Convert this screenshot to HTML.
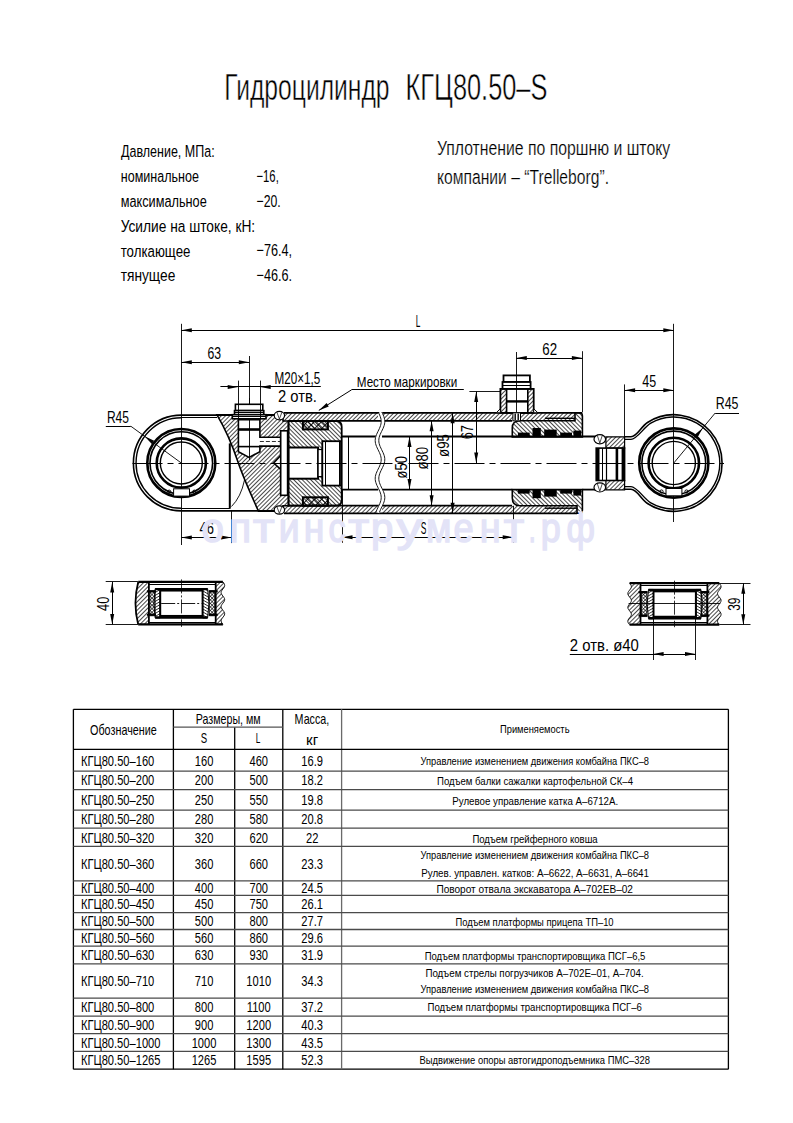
<!DOCTYPE html>
<html><head><meta charset="utf-8"><title>КГЦ80.50-S</title>
<style>html,body{margin:0;padding:0;background:#fff;}svg{display:block;}
text{font-family:"Liberation Sans", sans-serif;}</style></head>
<body><svg width="793" height="1123" viewBox="0 0 793 1123">
<defs>
<pattern id="hA" patternUnits="userSpaceOnUse" width="3" height="3" patternTransform="rotate(45)">
<rect x="0" y="0" width="0.72" height="3" fill="#000"/></pattern>
<pattern id="hA2" patternUnits="userSpaceOnUse" width="2.6" height="2.6" patternTransform="rotate(60)">
<rect x="0" y="0" width="0.7" height="2.6" fill="#000"/></pattern>
<pattern id="hB2" patternUnits="userSpaceOnUse" width="2.6" height="2.6" patternTransform="rotate(-60)">
<rect x="0" y="0" width="0.7" height="2.6" fill="#000"/></pattern>
<pattern id="hX2" patternUnits="userSpaceOnUse" width="2.5" height="2.5" patternTransform="rotate(45)">
<rect x="0" y="0" width="0.6" height="2.5" fill="#000"/><rect x="0" y="0" width="2.5" height="0.6" fill="#000"/></pattern>
<pattern id="hB" patternUnits="userSpaceOnUse" width="3" height="3" patternTransform="rotate(-45)">
<rect x="0" y="0" width="0.72" height="3" fill="#000"/></pattern>
<pattern id="hX" patternUnits="userSpaceOnUse" width="5" height="5" patternTransform="rotate(45)">
<rect x="0" y="0" width="0.9" height="5" fill="#000"/><rect x="0" y="0" width="5" height="0.9" fill="#000"/></pattern>
</defs>
<rect x="0" y="0" width="793" height="1123" fill="#fff"/>
<text x="224.20" y="100.40" font-size="36.5" stroke="#fff" stroke-width="0.5" fill="#000" font-weight="normal" textLength="165.40" lengthAdjust="spacingAndGlyphs" >Гидроцилиндр</text>
<text x="405.60" y="100.40" font-size="36.5" stroke="#fff" stroke-width="0.5" fill="#000" font-weight="normal" textLength="141.81" lengthAdjust="spacingAndGlyphs" >КГЦ80.50–S</text>
<text x="121.00" y="157.00" font-size="16.8" stroke="none" stroke-width="0" fill="#000" font-weight="normal" textLength="93.60" lengthAdjust="spacingAndGlyphs" >Давление, МПа:</text>
<text x="120.80" y="182.00" font-size="16.8" stroke="none" stroke-width="0" fill="#000" font-weight="normal" textLength="78.10" lengthAdjust="spacingAndGlyphs" >номинальное</text>
<text x="120.70" y="207.00" font-size="16.8" stroke="none" stroke-width="0" fill="#000" font-weight="normal" textLength="86.10" lengthAdjust="spacingAndGlyphs" >максимальное</text>
<text x="120.70" y="231.80" font-size="16.8" stroke="none" stroke-width="0" fill="#000" font-weight="normal" textLength="134.49" lengthAdjust="spacingAndGlyphs" >Усилие на штоке, кН:</text>
<text x="120.70" y="256.60" font-size="16.8" stroke="none" stroke-width="0" fill="#000" font-weight="normal" textLength="69.70" lengthAdjust="spacingAndGlyphs" >толкающее</text>
<text x="120.70" y="281.40" font-size="16.8" stroke="none" stroke-width="0" fill="#000" font-weight="normal" textLength="54.59" lengthAdjust="spacingAndGlyphs" >тянущее</text>
<text x="256.50" y="181.60" font-size="16.8" stroke="none" stroke-width="0" fill="#000" font-weight="normal" textLength="22.30" lengthAdjust="spacingAndGlyphs" >−16,</text>
<text x="256.50" y="206.90" font-size="16.8" stroke="none" stroke-width="0" fill="#000" font-weight="normal" textLength="24.20" lengthAdjust="spacingAndGlyphs" >−20.</text>
<text x="256.50" y="256.40" font-size="16.8" stroke="none" stroke-width="0" fill="#000" font-weight="normal" textLength="35.60" lengthAdjust="spacingAndGlyphs" >−76.4,</text>
<text x="256.50" y="281.00" font-size="16.8" stroke="none" stroke-width="0" fill="#000" font-weight="normal" textLength="35.60" lengthAdjust="spacingAndGlyphs" >−46.6.</text>
<text x="436.90" y="155.20" font-size="19.4" stroke="#fff" stroke-width="0.2" fill="#000" font-weight="normal" textLength="233.30" lengthAdjust="spacingAndGlyphs" >Уплотнение по поршню и штоку</text>
<text x="437.00" y="183.50" font-size="19.4" stroke="#fff" stroke-width="0.2" fill="#000" font-weight="normal" textLength="172.00" lengthAdjust="spacingAndGlyphs" >компании – “Trelleborg”.</text>
<g stroke="#000" fill="none" stroke-linecap="butt">
<line x1="181.50" y1="323.80" x2="181.50" y2="545.00" stroke-width="0.9" />
<line x1="673.50" y1="323.80" x2="673.50" y2="522.00" stroke-width="0.9" />
<line x1="181.30" y1="330.50" x2="673.80" y2="330.50" stroke-width="1.0" />
<path d="M181.30,330.30 L191.80,328.30 L191.80,332.30 Z" fill="#000" stroke="none"/>
<path d="M673.80,330.30 L663.30,332.30 L663.30,328.30 Z" fill="#000" stroke="none"/>
<line x1="249.50" y1="356.00" x2="249.50" y2="460.00" stroke-width="0.9" />
<line x1="181.30" y1="362.50" x2="249.30" y2="362.50" stroke-width="1.0" />
<path d="M181.30,362.20 L191.80,360.20 L191.80,364.20 Z" fill="#000" stroke="none"/>
<path d="M249.30,362.20 L238.80,364.20 L238.80,360.20 Z" fill="#000" stroke="none"/>
<line x1="220.40" y1="386.50" x2="320.80" y2="386.50" stroke-width="1.0" />
<path d="M238.20,386.90 L227.70,388.90 L227.70,384.90 Z" fill="#000" stroke="none"/>
<path d="M260.20,386.90 L270.70,384.90 L270.70,388.90 Z" fill="#000" stroke="none"/>
<line x1="238.50" y1="380.60" x2="238.50" y2="405.00" stroke-width="0.9" />
<line x1="260.50" y1="380.60" x2="260.50" y2="405.00" stroke-width="0.9" />
<line x1="351.60" y1="389.50" x2="463.80" y2="389.50" stroke-width="1.0" />
<line x1="351.60" y1="389.80" x2="318.80" y2="410.40" stroke-width="1.0" />
<path d="M318.80,410.40 L326.63,403.12 L328.76,406.51 Z" fill="#000" stroke="none"/>
<line x1="582.50" y1="351.20" x2="582.50" y2="412.00" stroke-width="0.9" />
<line x1="516.30" y1="358.50" x2="582.40" y2="358.50" stroke-width="1.0" />
<path d="M516.30,358.00 L526.80,356.00 L526.80,360.00 Z" fill="#000" stroke="none"/>
<path d="M582.40,358.00 L571.90,360.00 L571.90,356.00 Z" fill="#000" stroke="none"/>
<line x1="624.50" y1="384.40" x2="624.50" y2="437.00" stroke-width="0.9" />
<line x1="624.60" y1="390.50" x2="673.80" y2="390.50" stroke-width="1.0" />
<path d="M624.60,390.30 L635.10,388.30 L635.10,392.30 Z" fill="#000" stroke="none"/>
<path d="M673.80,390.30 L663.30,392.30 L663.30,388.30 Z" fill="#000" stroke="none"/>
<line x1="469.40" y1="391.50" x2="500.50" y2="391.50" stroke-width="0.9" />
<line x1="476.50" y1="391.50" x2="476.50" y2="463.00" stroke-width="1.0" />
<path d="M476.20,391.50 L478.20,402.00 L474.20,402.00 Z" fill="#000" stroke="none"/>
<path d="M476.20,463.00 L474.20,452.50 L478.20,452.50 Z" fill="#000" stroke="none"/>
<line x1="409.50" y1="436.60" x2="409.50" y2="489.60" stroke-width="1.0" />
<path d="M409.50,436.60 L411.50,447.10 L407.50,447.10 Z" fill="#000" stroke="none"/>
<path d="M409.50,489.60 L407.50,479.10 L411.50,479.10 Z" fill="#000" stroke="none"/>
<line x1="431.50" y1="420.80" x2="431.50" y2="505.70" stroke-width="1.0" />
<path d="M431.60,420.80 L433.60,431.30 L429.60,431.30 Z" fill="#000" stroke="none"/>
<path d="M431.60,505.70 L429.60,495.20 L433.60,495.20 Z" fill="#000" stroke="none"/>
<line x1="452.50" y1="412.80" x2="452.50" y2="513.30" stroke-width="1.0" />
<path d="M452.60,412.80 L454.60,423.30 L450.60,423.30 Z" fill="#000" stroke="none"/>
<path d="M452.60,513.30 L450.60,502.80 L454.60,502.80 Z" fill="#000" stroke="none"/>
<line x1="231.50" y1="511.00" x2="231.50" y2="543.10" stroke-width="0.9" />
<line x1="181.30" y1="537.50" x2="231.50" y2="537.50" stroke-width="1.0" />
<path d="M181.30,537.50 L191.80,535.50 L191.80,539.50 Z" fill="#000" stroke="none"/>
<path d="M231.50,537.50 L221.00,539.50 L221.00,535.50 Z" fill="#000" stroke="none"/>
<line x1="342.50" y1="490.00" x2="342.50" y2="542.80" stroke-width="0.9" />
<line x1="513.50" y1="506.00" x2="513.50" y2="543.00" stroke-width="0.9" />
<line x1="342.00" y1="537.50" x2="513.20" y2="537.50" stroke-width="1.0" />
<path d="M342.00,537.20 L352.50,535.20 L352.50,539.20 Z" fill="#000" stroke="none"/>
<path d="M513.20,537.20 L502.70,539.20 L502.70,535.20 Z" fill="#000" stroke="none"/>
<path d="M181.3,415.1 A47.9,47.9 0 0 0 181.3,510.9" stroke-width="1.6" fill="none" />
<path d="M181.3,417.7 A45.3,45.3 0 0 0 181.3,508.3" stroke-width="1.4" fill="none" />
<line x1="181.30" y1="415.10" x2="283.00" y2="415.10" stroke-width="1.6" />
<line x1="181.30" y1="417.50" x2="217.00" y2="417.50" stroke-width="1.0" />
<line x1="181.30" y1="510.90" x2="283.00" y2="510.90" stroke-width="1.6" />
<line x1="181.30" y1="508.50" x2="229.80" y2="508.50" stroke-width="1.0" />
<circle cx="181.30" cy="463.00" r="34.00" stroke-width="2.6" fill="none"/>
<circle cx="181.30" cy="463.00" r="31.30" stroke-width="1.6" fill="none"/>
<circle cx="181.30" cy="463.00" r="24.60" stroke-width="2.6" fill="none"/>
<circle cx="181.30" cy="463.00" r="21.00" stroke-width="1.4" fill="none"/>
<rect x="173.60" y="488.80" width="15.90" height="7.30" stroke-width="1.0" fill="#fff"/>
<circle cx="169.20" cy="491.70" r="1.60" stroke-width="1.0" fill="none"/>
<circle cx="194.30" cy="491.70" r="1.60" stroke-width="1.0" fill="none"/>
<line x1="229.80" y1="443.40" x2="229.80" y2="508.70" stroke-width="2.0" />
<path d="M231.5,506.5 Q241,497 244.5,480" stroke-width="0.9" fill="none" />
<text x="106.90" y="422.60" font-size="16.5" stroke="none" stroke-width="0" fill="#000" font-weight="normal" textLength="22.11" lengthAdjust="spacingAndGlyphs" >R45</text>
<line x1="105.80" y1="426.50" x2="130.80" y2="426.50" stroke-width="1.0" />
<line x1="130.80" y1="426.20" x2="181.30" y2="463.00" stroke-width="0.9" />
<path d="M144.53,436.20 L154.19,440.77 L151.84,444.00 Z" fill="#000" stroke="none"/>
<path d="M217,414.8 L283,414.8 L283,421 L288.4,421 L288.4,430.8 L280.7,430.8 L280.7,455.5 L273.7,463 L280.7,469.4 L280.7,495.3 L288.4,495.3 L288.4,505.7 L283,505.7 L283,511.2 L258.5,511.2 C248,488 242,474 238,462 C232,444 226,430 217,414.8 Z" fill="url(#hA)" stroke="none"/>
<path d="M217,414.8 L283,414.8 L283,421 L288.4,421 L288.4,430.8 L280.7,430.8 L280.7,455.5 L273.7,463 L280.7,469.4 L280.7,495.3 L288.4,495.3 L288.4,505.7 L283,505.7 L283,511.2 L258.5,511.2 C248,488 242,474 238,462 C232,444 226,430 217,414.8 Z" stroke-width="1.6" fill="none" />
<path d="M238.4,419.6 L259.9,419.6 L259.9,437.2 L280.7,437.2 L280.7,446.1 L259.9,446.1 L259.9,451.7 L249.1,457.4 L238.4,451.7 Z" stroke-width="1.6" fill="#fff" />
<line x1="259.90" y1="441.50" x2="280.70" y2="441.50" stroke-width="0.8" stroke-dasharray="4,2"/>
<line x1="238.40" y1="429.50" x2="259.90" y2="429.50" stroke-width="2.6" />
<line x1="238.40" y1="446.60" x2="259.90" y2="446.60" stroke-width="1.6" />
<line x1="249.50" y1="398.00" x2="249.50" y2="457.00" stroke-width="0.9" />
<rect x="235.40" y="404.30" width="27.40" height="6.30" stroke-width="1.6" fill="#fff"/>
<rect x="234.50" y="410.60" width="29.30" height="4.10" stroke-width="1.6" fill="#fff"/>
<line x1="234.50" y1="412.50" x2="263.80" y2="412.50" stroke-width="1.0" />
<rect x="232.30" y="414.70" width="33.70" height="4.10" stroke-width="1.6" fill="#fff"/>
<line x1="232.30" y1="416.50" x2="266.00" y2="416.50" stroke-width="1.0" />
<line x1="238.50" y1="404.30" x2="238.50" y2="418.80" stroke-width="0.9" />
<line x1="260.50" y1="404.30" x2="260.50" y2="418.80" stroke-width="0.9" />
<rect x="280.70" y="430.80" width="6.90" height="64.50" stroke-width="1.6" fill="#fff"/>
<ellipse cx="279.4" cy="415.6" rx="5.2" ry="4.2" fill="#fff" stroke-width="1.2"/>
<line x1="276.90" y1="412.20" x2="279.40" y2="419.00" stroke-width="0.7" />
<line x1="281.90" y1="412.20" x2="279.40" y2="419.00" stroke-width="0.7" />
<ellipse cx="279.4" cy="510.0" rx="5.2" ry="4.2" fill="#fff" stroke-width="1.2"/>
<line x1="276.90" y1="506.60" x2="279.40" y2="513.40" stroke-width="0.7" />
<line x1="281.90" y1="506.60" x2="279.40" y2="513.40" stroke-width="0.7" />
<path d="M284,412.8 L378,412.8 L378,420.8 L284,420.8 Z M382,412.8 L575,412.8 L575,420.8 L382,420.8 Z" fill="url(#hA)" stroke="none"/>
<path d="M284,505.7 L378,505.7 L378,513.3 L284,513.3 Z M382,505.7 L577,505.7 L577,513.3 L382,513.3 Z" fill="url(#hA)" stroke="none"/>
<line x1="284.00" y1="412.80" x2="582.40" y2="412.80" stroke-width="1.8" />
<line x1="288.00" y1="420.80" x2="512.00" y2="420.80" stroke-width="1.8" />
<line x1="284.00" y1="513.30" x2="577.00" y2="513.30" stroke-width="1.8" />
<line x1="288.00" y1="505.70" x2="512.00" y2="505.70" stroke-width="1.8" />
<path d="M288.6,421 L336,421 Q341.7,421 341.7,427 L341.7,499.7 Q341.7,505.7 336,505.7 L288.6,505.7 Z" fill="url(#hB)" stroke="none"/>
<path d="M288.6,421 L336,421 Q341.7,421 341.7,427 L341.7,499.7 Q341.7,505.7 336,505.7 L288.6,505.7 Z" stroke-width="1.8" fill="none" />
<rect x="302.90" y="421.00" width="25.00" height="8.40" stroke-width="2.0" fill="url(#hX)"/>
<rect x="302.90" y="497.30" width="25.00" height="8.40" stroke-width="2.0" fill="url(#hX)"/>
<rect x="288.60" y="447.50" width="29.50" height="31.20" stroke-width="2.0" fill="#fff"/>
<rect x="318.10" y="449.50" width="4.20" height="27.10" stroke-width="1.2" fill="#fff"/>
<rect x="322.30" y="441.20" width="18.70" height="44.40" stroke-width="1.8" fill="#fff"/>
<line x1="325.50" y1="441.20" x2="325.50" y2="485.60" stroke-width="1.0" />
<line x1="339.50" y1="441.20" x2="339.50" y2="485.60" stroke-width="1.0" />
<line x1="341.70" y1="436.50" x2="378.00" y2="436.50" stroke-width="1.8" />
<line x1="382.00" y1="436.50" x2="596.00" y2="436.50" stroke-width="1.8" />
<line x1="341.70" y1="489.60" x2="378.00" y2="489.60" stroke-width="1.8" />
<line x1="382.00" y1="489.60" x2="512.30" y2="489.60" stroke-width="1.8" />
<line x1="582.40" y1="489.60" x2="596.00" y2="489.60" stroke-width="1.8" />
<line x1="348.50" y1="436.50" x2="348.50" y2="489.60" stroke-width="1.0" />
<path d="M380.00,412.00 L380.74,413.50 L381.43,415.00 L382.03,416.50 L382.51,418.00 L382.84,419.50 L382.99,421.00 L382.96,422.50 L382.75,424.00 L382.37,425.50 L381.84,427.00 L381.21,428.50 L380.49,430.00 L379.75,431.50 L379.03,433.00 L378.36,434.50 L377.79,436.00 L377.36,437.50 L377.09,439.00 L377.00,440.50 L377.09,442.00 L377.36,443.50 L377.79,445.00 L378.36,446.50 L379.03,448.00 L379.75,449.50 L380.49,451.00 L381.21,452.50 L381.84,454.00 L382.37,455.50 L382.75,457.00 L382.96,458.50 L382.99,460.00 L382.84,461.50 L382.51,463.00 L382.03,464.50 L381.43,466.00 L380.74,467.50 L380.00,469.00 L379.26,470.50 L378.57,472.00 L377.97,473.50 L377.49,475.00 L377.16,476.50 L377.01,478.00 L377.04,479.50 L377.25,481.00 L377.63,482.50 L378.16,484.00 L378.79,485.50 L379.51,487.00 L380.25,488.50 L380.97,490.00 L381.64,491.50 L382.21,493.00 L382.64,494.50 L382.91,496.00 L383.00,497.50 L382.91,499.00 L382.64,500.50 L382.21,502.00 L381.64,503.50 L380.97,505.00 L380.25,506.50 L379.51,508.00 L378.79,509.50 L378.16,511.00 L377.63,512.50" stroke="#fff" stroke-width="4" fill="none"/>
<path d="M378.20,412.00 L378.94,413.50 L379.63,415.00 L380.23,416.50 L380.71,418.00 L381.04,419.50 L381.19,421.00 L381.16,422.50 L380.95,424.00 L380.57,425.50 L380.04,427.00 L379.41,428.50 L378.69,430.00 L377.95,431.50 L377.23,433.00 L376.56,434.50 L375.99,436.00 L375.56,437.50 L375.29,439.00 L375.20,440.50 L375.29,442.00 L375.56,443.50 L375.99,445.00 L376.56,446.50 L377.23,448.00 L377.95,449.50 L378.69,451.00 L379.41,452.50 L380.04,454.00 L380.57,455.50 L380.95,457.00 L381.16,458.50 L381.19,460.00 L381.04,461.50 L380.71,463.00 L380.23,464.50 L379.63,466.00 L378.94,467.50 L378.20,469.00 L377.46,470.50 L376.77,472.00 L376.17,473.50 L375.69,475.00 L375.36,476.50 L375.21,478.00 L375.24,479.50 L375.45,481.00 L375.83,482.50 L376.36,484.00 L376.99,485.50 L377.71,487.00 L378.45,488.50 L379.17,490.00 L379.84,491.50 L380.41,493.00 L380.84,494.50 L381.11,496.00 L381.20,497.50 L381.11,499.00 L380.84,500.50 L380.41,502.00 L379.84,503.50 L379.17,505.00 L378.45,506.50 L377.71,508.00 L376.99,509.50 L376.36,511.00 L375.83,512.50" stroke-width="0.9" fill="none" />
<path d="M381.80,412.00 L382.54,413.50 L383.23,415.00 L383.83,416.50 L384.31,418.00 L384.64,419.50 L384.79,421.00 L384.76,422.50 L384.55,424.00 L384.17,425.50 L383.64,427.00 L383.01,428.50 L382.29,430.00 L381.55,431.50 L380.83,433.00 L380.16,434.50 L379.59,436.00 L379.16,437.50 L378.89,439.00 L378.80,440.50 L378.89,442.00 L379.16,443.50 L379.59,445.00 L380.16,446.50 L380.83,448.00 L381.55,449.50 L382.29,451.00 L383.01,452.50 L383.64,454.00 L384.17,455.50 L384.55,457.00 L384.76,458.50 L384.79,460.00 L384.64,461.50 L384.31,463.00 L383.83,464.50 L383.23,466.00 L382.54,467.50 L381.80,469.00 L381.06,470.50 L380.37,472.00 L379.77,473.50 L379.29,475.00 L378.96,476.50 L378.81,478.00 L378.84,479.50 L379.05,481.00 L379.43,482.50 L379.96,484.00 L380.59,485.50 L381.31,487.00 L382.05,488.50 L382.77,490.00 L383.44,491.50 L384.01,493.00 L384.44,494.50 L384.71,496.00 L384.80,497.50 L384.71,499.00 L384.44,500.50 L384.01,502.00 L383.44,503.50 L382.77,505.00 L382.05,506.50 L381.31,508.00 L380.59,509.50 L379.96,511.00 L379.43,512.50" stroke-width="0.9" fill="none" />
<path d="M512.3,437 L512.3,428 Q512.3,420.8 520,420.8 L575,420.8 L575,412.8 L579,412.8 Q582.4,412.8 582.4,416 L582.4,437 Z" fill="url(#hB)" stroke="none"/>
<path d="M512.3,489.6 L512.3,498 Q512.3,505.7 520,505.7 L577,505.7 L577,513.3 L579,513.3 Q582.4,513.3 582.4,510 L582.4,489.6 Z" fill="url(#hB)" stroke="none"/>
<path d="M512.3,437 L512.3,428 Q512.3,420.8 520,420.8 L575,420.8 L575,412.8 L579,412.8 Q582.4,412.8 582.4,416 L582.4,437 Z" stroke-width="1.6" fill="none" />
<path d="M512.3,489.6 L512.3,498 Q512.3,505.7 520,505.7 L577,505.7 L577,513.3 L579,513.3 Q582.4,513.3 582.4,510 L582.4,489.6 Z" stroke-width="1.6" fill="none" />
<line x1="545.00" y1="418.30" x2="575.00" y2="418.30" stroke-width="1.4" />
<line x1="545.00" y1="508.20" x2="577.00" y2="508.20" stroke-width="1.4" />
<rect x="517.90" y="432.60" width="11.80" height="4.00" stroke-width="0" fill="#000"/>
<rect x="517.90" y="489.60" width="11.80" height="4.00" stroke-width="0" fill="#000"/>
<rect x="532.50" y="428.00" width="8.30" height="8.60" stroke-width="0" fill="#000"/>
<rect x="532.50" y="489.60" width="8.30" height="8.60" stroke-width="0" fill="#000"/>
<rect x="544.20" y="429.60" width="12.50" height="7.00" stroke-width="0" fill="#000"/>
<rect x="544.20" y="489.60" width="12.50" height="7.00" stroke-width="0" fill="#000"/>
<rect x="560.20" y="432.60" width="11.80" height="4.00" stroke-width="0" fill="#000"/>
<rect x="560.20" y="489.60" width="11.80" height="4.00" stroke-width="0" fill="#000"/>
<rect x="573.40" y="430.60" width="7.60" height="6.00" stroke-width="0" fill="#000"/>
<rect x="573.40" y="489.60" width="7.60" height="6.00" stroke-width="0" fill="#000"/>
<path d="M500.4,388.9 L533.7,388.9 L533.7,412.8 L500.4,412.8 Z" fill="url(#hA)" stroke="none"/>
<path d="M500.4,388.9 L533.7,388.9 L533.7,412.8 L500.4,412.8 Z" stroke-width="1.8" fill="none" />
<rect x="506.60" y="388.90" width="21.20" height="23.90" stroke-width="1.6" fill="#fff"/>
<line x1="506.60" y1="401.40" x2="527.80" y2="401.40" stroke-width="2.4" />
<rect x="503.50" y="375.40" width="26.40" height="6.60" stroke-width="1.8" fill="#fff"/>
<rect x="502.50" y="382.00" width="28.10" height="6.90" stroke-width="1.8" fill="#fff"/>
<line x1="502.50" y1="385.50" x2="530.60" y2="385.50" stroke-width="1.0" />
<line x1="516.50" y1="352.00" x2="516.50" y2="412.80" stroke-width="0.9" />
<path d="M500.4,408.7 L496.2,412.8 L500.4,412.8 Z" stroke-width="1.0" fill="#fff" />
<path d="M533.7,408.7 L537.9,412.8 L533.7,412.8 Z" stroke-width="1.0" fill="#fff" />
<rect x="512.90" y="412.80" width="7.60" height="8.00" stroke-width="1.0" fill="#fff"/>
<line x1="515.20" y1="413.50" x2="515.20" y2="420.00" stroke-width="1.4" />
<line x1="518.20" y1="413.50" x2="518.20" y2="420.00" stroke-width="1.4" />
<path d="M605.9,436.8 L624.6,436.8 L624.6,448.1 L605.9,448.1 Z" fill="url(#hA)" stroke="none"/>
<path d="M605.9,480.5 L624.6,480.5 L624.6,489.8 L605.9,489.8 Z" fill="url(#hA)" stroke="none"/>
<path d="M605.9,436.8 L624.6,436.8 L624.6,448.1 L605.9,448.1 Z" stroke-width="1.2" fill="none" />
<path d="M605.9,480.5 L624.6,480.5 L624.6,489.8 L605.9,489.8 Z" stroke-width="1.2" fill="none" />
<rect x="596.20" y="448.10" width="28.40" height="32.40" stroke-width="1.6" fill="#fff"/>
<line x1="598.20" y1="448.10" x2="598.20" y2="480.50" stroke-width="2.6" />
<line x1="602.50" y1="448.10" x2="602.50" y2="480.50" stroke-width="1.0" />
<line x1="606.50" y1="448.10" x2="606.50" y2="480.50" stroke-width="1.2" />
<line x1="616.90" y1="448.10" x2="616.90" y2="480.50" stroke-width="2.6" />
<line x1="622.80" y1="448.10" x2="622.80" y2="480.50" stroke-width="2.4" />
<ellipse cx="599.8" cy="439.2" rx="5.8" ry="4.6" fill="#fff" stroke-width="1.2"/>
<line x1="597.30" y1="435.40" x2="599.80" y2="443.00" stroke-width="0.7" />
<line x1="602.30" y1="435.40" x2="599.80" y2="443.00" stroke-width="0.7" />
<ellipse cx="599.8" cy="487.4" rx="5.8" ry="4.6" fill="#fff" stroke-width="1.2"/>
<line x1="597.30" y1="483.60" x2="599.80" y2="491.20" stroke-width="0.7" />
<line x1="602.30" y1="483.60" x2="599.80" y2="491.20" stroke-width="0.7" />
<path d="M624.6,436.80 L631,436.80 C637,436.80 640.78,426.85 647.49,422.49 A48.3,48.3 0 1 1 647.49,503.51 C640.78,499.15 637,489.20 631,489.20 L624.6,489.20" stroke-width="1.6" fill="none" />
<path d="M624.6,439.40 L631,439.40 C637,439.40 643.87,427.16 650.80,423.16 A46.0,46.0 0 1 1 650.80,502.84 C643.87,498.84 637,486.60 631,486.60 L624.6,486.60" stroke-width="1.4" fill="none" />
<circle cx="673.80" cy="463.00" r="34.60" stroke-width="2.6" fill="none"/>
<circle cx="673.80" cy="463.00" r="31.90" stroke-width="1.6" fill="none"/>
<circle cx="673.80" cy="463.00" r="25.20" stroke-width="2.6" fill="none"/>
<circle cx="673.80" cy="463.00" r="21.60" stroke-width="1.4" fill="none"/>
<rect x="666.00" y="488.50" width="15.90" height="7.30" stroke-width="1.0" fill="#fff"/>
<circle cx="661.50" cy="491.50" r="1.60" stroke-width="1.0" fill="none"/>
<circle cx="686.50" cy="491.50" r="1.60" stroke-width="1.0" fill="none"/>
<text x="715.70" y="409.20" font-size="16.5" stroke="none" stroke-width="0" fill="#000" font-weight="normal" textLength="22.71" lengthAdjust="spacingAndGlyphs" >R45</text>
<line x1="715.20" y1="413.50" x2="739.00" y2="413.50" stroke-width="1.0" />
<line x1="715.20" y1="413.00" x2="673.80" y2="463.00" stroke-width="0.9" />
<path d="M702.82,427.95 L697.66,437.32 L694.58,434.77 Z" fill="#000" stroke="none"/>
<line x1="132.50" y1="463.50" x2="724.00" y2="463.50" stroke-width="1.0" stroke-dasharray="30,5,6,5"/>
<line x1="105.70" y1="581.50" x2="137.90" y2="581.50" stroke-width="0.9" />
<line x1="105.70" y1="624.50" x2="137.90" y2="624.50" stroke-width="0.9" />
<line x1="112.50" y1="581.90" x2="112.50" y2="624.40" stroke-width="1.0" />
<path d="M112.20,581.90 L114.20,592.40 L110.20,592.40 Z" fill="#000" stroke="none"/>
<path d="M112.20,624.40 L110.20,613.90 L114.20,613.90 Z" fill="#000" stroke="none"/>
<text x="108.90" y="610.90" font-size="17" stroke="none" stroke-width="0" fill="#000" font-weight="normal" textLength="14.20" lengthAdjust="spacingAndGlyphs" transform="rotate(-90 108.90 610.90)" >40</text>
<path d="M138.2,581.9 Q132.7,603.15 138.2,624.4 L148.9,624.4 L148.9,581.9 Z" fill="url(#hA)" stroke="none"/>
<path d="M215.7,581.9 L222.9,581.9 L222.90,581.90 L223.80,583.08 L224.46,584.26 L224.70,585.44 L224.46,586.62 L223.80,587.80 L222.90,588.98 L222.00,590.16 L221.34,591.34 L221.10,592.52 L221.34,593.71 L222.00,594.89 L222.90,596.07 L223.80,597.25 L224.46,598.43 L224.70,599.61 L224.46,600.79 L223.80,601.97 L222.90,603.15 L222.00,604.33 L221.34,605.51 L221.10,606.69 L221.34,607.87 L222.00,609.05 L222.90,610.23 L223.80,611.41 L224.46,612.59 L224.70,613.77 L224.46,614.96 L223.80,616.14 L222.90,617.32 L222.00,618.50 L221.34,619.68 L221.10,620.86 L221.34,622.04 L222.00,623.22 L222.90,624.40 L215.7,624.4 Z" fill="url(#hA)" stroke="none"/>
<path d="M138.2,581.9 Q132.7,603.15 138.2,624.4" stroke-width="1.8" fill="none" />
<path d="M222.90,581.90 L223.80,583.08 L224.46,584.26 L224.70,585.44 L224.46,586.62 L223.80,587.80 L222.90,588.98 L222.00,590.16 L221.34,591.34 L221.10,592.52 L221.34,593.71 L222.00,594.89 L222.90,596.07 L223.80,597.25 L224.46,598.43 L224.70,599.61 L224.46,600.79 L223.80,601.97 L222.90,603.15 L222.00,604.33 L221.34,605.51 L221.10,606.69 L221.34,607.87 L222.00,609.05 L222.90,610.23 L223.80,611.41 L224.46,612.59 L224.70,613.77 L224.46,614.96 L223.80,616.14 L222.90,617.32 L222.00,618.50 L221.34,619.68 L221.10,620.86 L221.34,622.04 L222.00,623.22 L222.90,624.40" stroke-width="0.9" fill="none" />
<line x1="148.90" y1="581.90" x2="148.90" y2="624.40" stroke-width="1.8" />
<line x1="215.70" y1="581.90" x2="215.70" y2="624.40" stroke-width="1.8" />
<line x1="138.20" y1="581.90" x2="222.90" y2="581.90" stroke-width="2.2" />
<line x1="138.20" y1="624.40" x2="222.90" y2="624.40" stroke-width="2.2" />
<line x1="148.90" y1="584.50" x2="215.70" y2="584.50" stroke-width="1.0" />
<line x1="148.90" y1="622.50" x2="215.70" y2="622.50" stroke-width="1.0" />
<path d="M149.9,590.75 L155.20000000000002,590.75 L155.20000000000002,615.75 L149.9,615.75 Z" fill="url(#hX2)" stroke="none"/>
<path d="M149.9,590.75 L155.20000000000002,590.75 L155.20000000000002,615.75 L149.9,615.75 Z" stroke-width="0.8" fill="none" />
<path d="M209.39999999999998,590.75 L214.7,590.75 L214.7,615.75 L209.39999999999998,615.75 Z" fill="url(#hX2)" stroke="none"/>
<path d="M209.39999999999998,590.75 L214.7,590.75 L214.7,615.75 L209.39999999999998,615.75 Z" stroke-width="0.8" fill="none" />
<line x1="146.90" y1="591.35" x2="155.90" y2="591.35" stroke-width="2.2" />
<line x1="146.90" y1="614.75" x2="155.90" y2="614.75" stroke-width="2.2" />
<line x1="208.70" y1="591.35" x2="217.70" y2="591.35" stroke-width="2.2" />
<line x1="208.70" y1="614.75" x2="217.70" y2="614.75" stroke-width="2.2" />
<path d="M160.20000000000002,588.65 L155.20000000000002,588.65 Q152.4,603.15 155.20000000000002,617.9499999999999 L160.20000000000002,617.9499999999999 Z" fill="url(#hA2)" stroke="none"/>
<path d="M160.20000000000002,588.65 L155.20000000000002,588.65 Q152.4,603.15 155.20000000000002,617.9499999999999 L160.20000000000002,617.9499999999999 Z" stroke-width="1.0" fill="none" />
<path d="M202.6,588.65 L207.6,588.65 Q210.4,603.15 207.6,617.9499999999999 L202.6,617.9499999999999 Z" fill="url(#hB2)" stroke="none"/>
<path d="M202.6,588.65 L207.6,588.65 Q210.4,603.15 207.6,617.9499999999999 L202.6,617.9499999999999 Z" stroke-width="1.0" fill="none" />
<line x1="155.20" y1="589.15" x2="207.60" y2="589.15" stroke-width="2.4" />
<line x1="155.20" y1="617.45" x2="207.60" y2="617.45" stroke-width="2.4" />
<rect x="160.20" y="590.55" width="42.40" height="25.40" stroke-width="2.0" fill="#fff"/>
<line x1="181.50" y1="579.40" x2="181.50" y2="626.90" stroke-width="0.8" stroke-dasharray="14,2,2,2"/>
<line x1="161.20" y1="603.50" x2="201.60" y2="603.50" stroke-width="0.9" stroke-dasharray="14,2,2,2"/>
<line x1="719.40" y1="583.50" x2="750.50" y2="583.50" stroke-width="0.9" />
<line x1="719.40" y1="624.50" x2="750.50" y2="624.50" stroke-width="0.9" />
<line x1="743.50" y1="583.20" x2="743.50" y2="624.70" stroke-width="1.0" />
<path d="M743.30,583.20 L745.30,593.70 L741.30,593.70 Z" fill="#000" stroke="none"/>
<path d="M743.30,624.70 L741.30,614.20 L745.30,614.20 Z" fill="#000" stroke="none"/>
<text x="740.50" y="610.80" font-size="17" stroke="none" stroke-width="0" fill="#000" font-weight="normal" textLength="13.30" lengthAdjust="spacingAndGlyphs" transform="rotate(-90 740.50 610.80)" >39</text>
<path d="M640.5,583.2 L629.6,583.2 L629.60,583.20 L630.50,584.35 L631.16,585.51 L631.40,586.66 L631.16,587.81 L630.50,588.96 L629.60,590.12 L628.70,591.27 L628.04,592.42 L627.80,593.58 L628.04,594.73 L628.70,595.88 L629.60,597.03 L630.50,598.19 L631.16,599.34 L631.40,600.49 L631.16,601.64 L630.50,602.80 L629.60,603.95 L628.70,605.10 L628.04,606.26 L627.80,607.41 L628.04,608.56 L628.70,609.71 L629.60,610.87 L630.50,612.02 L631.16,613.17 L631.40,614.33 L631.16,615.48 L630.50,616.63 L629.60,617.78 L628.70,618.94 L628.04,620.09 L627.80,621.24 L628.04,622.39 L628.70,623.55 L629.60,624.70 L640.5,624.7 Z" fill="url(#hA)" stroke="none"/>
<path d="M707.4,583.2 L719.3,583.2 L719.30,583.20 L720.20,584.35 L720.86,585.51 L721.10,586.66 L720.86,587.81 L720.20,588.96 L719.30,590.12 L718.40,591.27 L717.74,592.42 L717.50,593.58 L717.74,594.73 L718.40,595.88 L719.30,597.03 L720.20,598.19 L720.86,599.34 L721.10,600.49 L720.86,601.64 L720.20,602.80 L719.30,603.95 L718.40,605.10 L717.74,606.26 L717.50,607.41 L717.74,608.56 L718.40,609.71 L719.30,610.87 L720.20,612.02 L720.86,613.17 L721.10,614.33 L720.86,615.48 L720.20,616.63 L719.30,617.78 L718.40,618.94 L717.74,620.09 L717.50,621.24 L717.74,622.39 L718.40,623.55 L719.30,624.70 L707.4,624.7 Z" fill="url(#hA)" stroke="none"/>
<path d="M629.60,583.20 L630.50,584.35 L631.16,585.51 L631.40,586.66 L631.16,587.81 L630.50,588.96 L629.60,590.12 L628.70,591.27 L628.04,592.42 L627.80,593.58 L628.04,594.73 L628.70,595.88 L629.60,597.03 L630.50,598.19 L631.16,599.34 L631.40,600.49 L631.16,601.64 L630.50,602.80 L629.60,603.95 L628.70,605.10 L628.04,606.26 L627.80,607.41 L628.04,608.56 L628.70,609.71 L629.60,610.87 L630.50,612.02 L631.16,613.17 L631.40,614.33 L631.16,615.48 L630.50,616.63 L629.60,617.78 L628.70,618.94 L628.04,620.09 L627.80,621.24 L628.04,622.39 L628.70,623.55 L629.60,624.70" stroke-width="0.9" fill="none" />
<path d="M719.30,583.20 L720.20,584.35 L720.86,585.51 L721.10,586.66 L720.86,587.81 L720.20,588.96 L719.30,590.12 L718.40,591.27 L717.74,592.42 L717.50,593.58 L717.74,594.73 L718.40,595.88 L719.30,597.03 L720.20,598.19 L720.86,599.34 L721.10,600.49 L720.86,601.64 L720.20,602.80 L719.30,603.95 L718.40,605.10 L717.74,606.26 L717.50,607.41 L717.74,608.56 L718.40,609.71 L719.30,610.87 L720.20,612.02 L720.86,613.17 L721.10,614.33 L720.86,615.48 L720.20,616.63 L719.30,617.78 L718.40,618.94 L717.74,620.09 L717.50,621.24 L717.74,622.39 L718.40,623.55 L719.30,624.70" stroke-width="0.9" fill="none" />
<line x1="640.50" y1="583.20" x2="640.50" y2="624.70" stroke-width="1.8" />
<line x1="707.40" y1="583.20" x2="707.40" y2="624.70" stroke-width="1.8" />
<line x1="629.60" y1="583.20" x2="719.30" y2="583.20" stroke-width="2.2" />
<line x1="629.60" y1="624.70" x2="719.30" y2="624.70" stroke-width="2.2" />
<line x1="640.50" y1="585.50" x2="707.40" y2="585.50" stroke-width="1.0" />
<line x1="640.50" y1="622.50" x2="707.40" y2="622.50" stroke-width="1.0" />
<path d="M641.5,591.5500000000001 L646.8,591.5500000000001 L646.8,616.5500000000001 L641.5,616.5500000000001 Z" fill="url(#hX2)" stroke="none"/>
<path d="M641.5,591.5500000000001 L646.8,591.5500000000001 L646.8,616.5500000000001 L641.5,616.5500000000001 Z" stroke-width="0.8" fill="none" />
<path d="M701.1,591.5500000000001 L706.4,591.5500000000001 L706.4,616.5500000000001 L701.1,616.5500000000001 Z" fill="url(#hX2)" stroke="none"/>
<path d="M701.1,591.5500000000001 L706.4,591.5500000000001 L706.4,616.5500000000001 L701.1,616.5500000000001 Z" stroke-width="0.8" fill="none" />
<line x1="638.50" y1="592.15" x2="647.50" y2="592.15" stroke-width="2.2" />
<line x1="638.50" y1="615.55" x2="647.50" y2="615.55" stroke-width="2.2" />
<line x1="700.40" y1="592.15" x2="709.40" y2="592.15" stroke-width="2.2" />
<line x1="700.40" y1="615.55" x2="709.40" y2="615.55" stroke-width="2.2" />
<path d="M653.5,589.45 L648.5,589.45 Q645.7,603.95 648.5,618.75 L653.5,618.75 Z" fill="url(#hA2)" stroke="none"/>
<path d="M653.5,589.45 L648.5,589.45 Q645.7,603.95 648.5,618.75 L653.5,618.75 Z" stroke-width="1.0" fill="none" />
<path d="M695.9000000000001,589.45 L700.9000000000001,589.45 Q703.7,603.95 700.9000000000001,618.75 L695.9000000000001,618.75 Z" fill="url(#hB2)" stroke="none"/>
<path d="M695.9000000000001,589.45 L700.9000000000001,589.45 Q703.7,603.95 700.9000000000001,618.75 L695.9000000000001,618.75 Z" stroke-width="1.0" fill="none" />
<line x1="648.50" y1="589.95" x2="700.90" y2="589.95" stroke-width="2.4" />
<line x1="648.50" y1="618.25" x2="700.90" y2="618.25" stroke-width="2.4" />
<rect x="653.50" y="591.35" width="42.40" height="25.40" stroke-width="2.0" fill="#fff"/>
<line x1="674.50" y1="580.70" x2="674.50" y2="627.20" stroke-width="0.8" stroke-dasharray="14,2,2,2"/>
<line x1="628.60" y1="603.50" x2="720.30" y2="603.50" stroke-width="0.9" />
<line x1="653.50" y1="618.00" x2="653.50" y2="660.00" stroke-width="0.9" />
<line x1="695.50" y1="618.00" x2="695.50" y2="660.00" stroke-width="0.9" />
<line x1="569.80" y1="654.50" x2="695.50" y2="654.50" stroke-width="1.0" />
<path d="M653.10,654.10 L663.60,652.10 L663.60,656.10 Z" fill="#000" stroke="none"/>
<path d="M695.50,654.10 L685.00,656.10 L685.00,652.10 Z" fill="#000" stroke="none"/>
<text x="569.80" y="650.90" font-size="16.4" stroke="none" stroke-width="0" fill="#000" font-weight="normal" textLength="69.00" lengthAdjust="spacingAndGlyphs" >2 отв. ø40</text>
</g>
<text x="207.40" y="358.90" font-size="17" stroke="none" stroke-width="0" fill="#000" font-weight="normal" textLength="13.60" lengthAdjust="spacingAndGlyphs" >63</text>
<text x="274.50" y="383.50" font-size="16.4" stroke="none" stroke-width="0" fill="#000" font-weight="normal" textLength="45.81" lengthAdjust="spacingAndGlyphs" >M20×1,5</text>
<text x="277.90" y="402.40" font-size="16.4" stroke="none" stroke-width="0" fill="#000" font-weight="normal" textLength="39.00" lengthAdjust="spacingAndGlyphs" >2 отв.</text>
<text x="356.80" y="386.50" font-size="14.5" stroke="none" stroke-width="0" fill="#000" font-weight="normal" textLength="100.40" lengthAdjust="spacingAndGlyphs" >Место маркировки</text>
<text x="542.30" y="354.90" font-size="17" stroke="none" stroke-width="0" fill="#000" font-weight="normal" textLength="14.80" lengthAdjust="spacingAndGlyphs" >62</text>
<text x="642.30" y="386.80" font-size="17" stroke="none" stroke-width="0" fill="#000" font-weight="normal" textLength="13.90" lengthAdjust="spacingAndGlyphs" >45</text>
<text x="415.80" y="326.70" font-size="16.5" stroke="none" stroke-width="0" fill="#000" font-weight="normal" textLength="4.60" lengthAdjust="spacingAndGlyphs" >L</text>
<text x="472.70" y="439.30" font-size="17" stroke="none" stroke-width="0" fill="#000" font-weight="normal" textLength="14.20" lengthAdjust="spacingAndGlyphs" transform="rotate(-90 472.70 439.30)" >67</text>
<text x="449.20" y="456.90" font-size="17" stroke="none" stroke-width="0" fill="#000" font-weight="normal" textLength="22.70" lengthAdjust="spacingAndGlyphs" transform="rotate(-90 449.20 456.90)" >ø95</text>
<text x="427.80" y="469.60" font-size="17" stroke="none" stroke-width="0" fill="#000" font-weight="normal" textLength="22.70" lengthAdjust="spacingAndGlyphs" transform="rotate(-90 427.80 469.60)" >ø80</text>
<text x="406.70" y="478.50" font-size="17" stroke="none" stroke-width="0" fill="#000" font-weight="normal" textLength="22.40" lengthAdjust="spacingAndGlyphs" transform="rotate(-90 406.70 478.50)" >ø50</text>
<text x="199.50" y="534.10" font-size="17" stroke="none" stroke-width="0" fill="#000" font-weight="normal" textLength="14.40" lengthAdjust="spacingAndGlyphs" >46</text>
<text x="420.80" y="533.60" font-size="17" stroke="none" stroke-width="0" fill="#000" font-weight="normal" textLength="5.60" lengthAdjust="spacingAndGlyphs" >S</text>
<g stroke="#000" fill="none">
<line x1="73.40" y1="709.30" x2="728.40" y2="709.30" stroke-width="1.3" />
<line x1="73.40" y1="1069.20" x2="728.40" y2="1069.20" stroke-width="1.3" />
<line x1="73.40" y1="709.30" x2="73.40" y2="1069.20" stroke-width="1.3" />
<line x1="728.40" y1="709.30" x2="728.40" y2="1069.20" stroke-width="1.3" />
<line x1="173.40" y1="709.30" x2="173.40" y2="1069.20" stroke-width="1.3" />
<line x1="282.80" y1="709.30" x2="282.80" y2="1069.20" stroke-width="1.3" />
<line x1="341.60" y1="709.30" x2="341.60" y2="1069.20" stroke-width="1.3" stroke="#6a6a6a"/>
<line x1="234.70" y1="727.20" x2="234.70" y2="1069.20" stroke-width="1.3" />
<line x1="173.40" y1="727.20" x2="282.80" y2="727.20" stroke-width="1.3" stroke="#555"/>
<line x1="73.40" y1="749.30" x2="728.40" y2="749.30" stroke-width="1.3" />
<line x1="73.40" y1="771.20" x2="728.40" y2="771.20" stroke-width="1.3" stroke="#4a4a4a"/>
<line x1="73.40" y1="789.60" x2="728.40" y2="789.60" stroke-width="1.3" stroke="#4a4a4a"/>
<line x1="73.40" y1="810.20" x2="728.40" y2="810.20" stroke-width="1.3" stroke="#4a4a4a"/>
<line x1="73.40" y1="828.20" x2="728.40" y2="828.20" stroke-width="1.3" stroke="#4a4a4a"/>
<line x1="73.40" y1="846.40" x2="728.40" y2="846.40" stroke-width="1.3" stroke="#4a4a4a"/>
<line x1="73.40" y1="880.90" x2="728.40" y2="880.90" stroke-width="1.3" stroke="#4a4a4a"/>
<line x1="73.40" y1="895.30" x2="728.40" y2="895.30" stroke-width="1.3" stroke="#4a4a4a"/>
<line x1="73.40" y1="912.60" x2="728.40" y2="912.60" stroke-width="1.3" stroke="#4a4a4a"/>
<line x1="73.40" y1="929.50" x2="728.40" y2="929.50" stroke-width="1.3" stroke="#4a4a4a"/>
<line x1="73.40" y1="946.10" x2="728.40" y2="946.10" stroke-width="1.3" stroke="#4a4a4a"/>
<line x1="73.40" y1="963.90" x2="728.40" y2="963.90" stroke-width="1.3" stroke="#4a4a4a"/>
<line x1="73.40" y1="998.20" x2="728.40" y2="998.20" stroke-width="1.3" stroke="#4a4a4a"/>
<line x1="73.40" y1="1016.20" x2="728.40" y2="1016.20" stroke-width="1.3" stroke="#4a4a4a"/>
<line x1="73.40" y1="1033.60" x2="728.40" y2="1033.60" stroke-width="1.3" stroke="#4a4a4a"/>
<line x1="73.40" y1="1051.30" x2="728.40" y2="1051.30" stroke-width="1.3" stroke="#4a4a4a"/>
</g>
<text x="90.00" y="734.70" font-size="14.8" stroke="none" stroke-width="0" fill="#000" font-weight="normal" textLength="66.80" lengthAdjust="spacingAndGlyphs" >Обозначение</text>
<text x="195.70" y="724.20" font-size="14.8" stroke="none" stroke-width="0" fill="#000" font-weight="normal" textLength="65.00" lengthAdjust="spacingAndGlyphs" >Размеры, мм</text>
<text x="200.80" y="743.30" font-size="14.8" stroke="none" stroke-width="0" fill="#000" font-weight="normal" textLength="6.40" lengthAdjust="spacingAndGlyphs" >S</text>
<text x="255.70" y="743.30" font-size="14.8" stroke="none" stroke-width="0" fill="#000" font-weight="normal" textLength="4.60" lengthAdjust="spacingAndGlyphs" >L</text>
<text x="294.60" y="724.20" font-size="14.8" stroke="none" stroke-width="0" fill="#000" font-weight="normal" textLength="34.70" lengthAdjust="spacingAndGlyphs" >Масса,</text>
<text x="306.10" y="745.40" font-size="14.8" stroke="none" stroke-width="0" fill="#000" font-weight="normal" textLength="12.10" lengthAdjust="spacingAndGlyphs" >кг</text>
<text x="500.00" y="733.30" font-size="11" stroke="none" stroke-width="0" fill="#000" font-weight="normal" textLength="69.50" lengthAdjust="spacingAndGlyphs" >Применяемость</text>
<text x="80.90" y="765.60" font-size="14.8" stroke="none" stroke-width="0" fill="#000" font-weight="normal" textLength="73.40" lengthAdjust="spacingAndGlyphs" >КГЦ80.50–160</text>
<text x="194.76" y="765.60" font-size="14.8" stroke="none" stroke-width="0" fill="#000" font-weight="normal" textLength="18.58" lengthAdjust="spacingAndGlyphs" >160</text>
<text x="249.46" y="765.60" font-size="14.8" stroke="none" stroke-width="0" fill="#000" font-weight="normal" textLength="18.58" lengthAdjust="spacingAndGlyphs" >460</text>
<text x="301.36" y="765.60" font-size="14.8" stroke="none" stroke-width="0" fill="#000" font-weight="normal" textLength="21.67" lengthAdjust="spacingAndGlyphs" >16.9</text>
<text x="80.90" y="785.40" font-size="14.8" stroke="none" stroke-width="0" fill="#000" font-weight="normal" textLength="73.40" lengthAdjust="spacingAndGlyphs" >КГЦ80.50–200</text>
<text x="194.76" y="785.40" font-size="14.8" stroke="none" stroke-width="0" fill="#000" font-weight="normal" textLength="18.58" lengthAdjust="spacingAndGlyphs" >200</text>
<text x="249.46" y="785.40" font-size="14.8" stroke="none" stroke-width="0" fill="#000" font-weight="normal" textLength="18.58" lengthAdjust="spacingAndGlyphs" >500</text>
<text x="301.36" y="785.40" font-size="14.8" stroke="none" stroke-width="0" fill="#000" font-weight="normal" textLength="21.67" lengthAdjust="spacingAndGlyphs" >18.2</text>
<text x="80.90" y="805.10" font-size="14.8" stroke="none" stroke-width="0" fill="#000" font-weight="normal" textLength="73.40" lengthAdjust="spacingAndGlyphs" >КГЦ80.50–250</text>
<text x="194.76" y="805.10" font-size="14.8" stroke="none" stroke-width="0" fill="#000" font-weight="normal" textLength="18.58" lengthAdjust="spacingAndGlyphs" >250</text>
<text x="249.46" y="805.10" font-size="14.8" stroke="none" stroke-width="0" fill="#000" font-weight="normal" textLength="18.58" lengthAdjust="spacingAndGlyphs" >550</text>
<text x="301.36" y="805.10" font-size="14.8" stroke="none" stroke-width="0" fill="#000" font-weight="normal" textLength="21.67" lengthAdjust="spacingAndGlyphs" >19.8</text>
<text x="80.90" y="823.90" font-size="14.8" stroke="none" stroke-width="0" fill="#000" font-weight="normal" textLength="73.40" lengthAdjust="spacingAndGlyphs" >КГЦ80.50–280</text>
<text x="194.76" y="823.90" font-size="14.8" stroke="none" stroke-width="0" fill="#000" font-weight="normal" textLength="18.58" lengthAdjust="spacingAndGlyphs" >280</text>
<text x="249.46" y="823.90" font-size="14.8" stroke="none" stroke-width="0" fill="#000" font-weight="normal" textLength="18.58" lengthAdjust="spacingAndGlyphs" >580</text>
<text x="301.36" y="823.90" font-size="14.8" stroke="none" stroke-width="0" fill="#000" font-weight="normal" textLength="21.67" lengthAdjust="spacingAndGlyphs" >20.8</text>
<text x="80.90" y="842.50" font-size="14.8" stroke="none" stroke-width="0" fill="#000" font-weight="normal" textLength="73.40" lengthAdjust="spacingAndGlyphs" >КГЦ80.50–320</text>
<text x="194.76" y="842.50" font-size="14.8" stroke="none" stroke-width="0" fill="#000" font-weight="normal" textLength="18.58" lengthAdjust="spacingAndGlyphs" >320</text>
<text x="249.46" y="842.50" font-size="14.8" stroke="none" stroke-width="0" fill="#000" font-weight="normal" textLength="18.58" lengthAdjust="spacingAndGlyphs" >620</text>
<text x="306.01" y="842.50" font-size="14.8" stroke="none" stroke-width="0" fill="#000" font-weight="normal" textLength="12.39" lengthAdjust="spacingAndGlyphs" >22</text>
<text x="80.90" y="869.20" font-size="14.8" stroke="none" stroke-width="0" fill="#000" font-weight="normal" textLength="73.40" lengthAdjust="spacingAndGlyphs" >КГЦ80.50–360</text>
<text x="194.76" y="869.20" font-size="14.8" stroke="none" stroke-width="0" fill="#000" font-weight="normal" textLength="18.58" lengthAdjust="spacingAndGlyphs" >360</text>
<text x="249.46" y="869.20" font-size="14.8" stroke="none" stroke-width="0" fill="#000" font-weight="normal" textLength="18.58" lengthAdjust="spacingAndGlyphs" >660</text>
<text x="301.36" y="869.20" font-size="14.8" stroke="none" stroke-width="0" fill="#000" font-weight="normal" textLength="21.67" lengthAdjust="spacingAndGlyphs" >23.3</text>
<text x="80.90" y="893.40" font-size="14.8" stroke="none" stroke-width="0" fill="#000" font-weight="normal" textLength="73.40" lengthAdjust="spacingAndGlyphs" >КГЦ80.50–400</text>
<text x="194.76" y="893.40" font-size="14.8" stroke="none" stroke-width="0" fill="#000" font-weight="normal" textLength="18.58" lengthAdjust="spacingAndGlyphs" >400</text>
<text x="249.46" y="893.40" font-size="14.8" stroke="none" stroke-width="0" fill="#000" font-weight="normal" textLength="18.58" lengthAdjust="spacingAndGlyphs" >700</text>
<text x="301.36" y="893.40" font-size="14.8" stroke="none" stroke-width="0" fill="#000" font-weight="normal" textLength="21.67" lengthAdjust="spacingAndGlyphs" >24.5</text>
<text x="80.90" y="909.10" font-size="14.8" stroke="none" stroke-width="0" fill="#000" font-weight="normal" textLength="73.40" lengthAdjust="spacingAndGlyphs" >КГЦ80.50–450</text>
<text x="194.76" y="909.10" font-size="14.8" stroke="none" stroke-width="0" fill="#000" font-weight="normal" textLength="18.58" lengthAdjust="spacingAndGlyphs" >450</text>
<text x="249.46" y="909.10" font-size="14.8" stroke="none" stroke-width="0" fill="#000" font-weight="normal" textLength="18.58" lengthAdjust="spacingAndGlyphs" >750</text>
<text x="301.36" y="909.10" font-size="14.8" stroke="none" stroke-width="0" fill="#000" font-weight="normal" textLength="21.67" lengthAdjust="spacingAndGlyphs" >26.1</text>
<text x="80.90" y="925.90" font-size="14.8" stroke="none" stroke-width="0" fill="#000" font-weight="normal" textLength="73.40" lengthAdjust="spacingAndGlyphs" >КГЦ80.50–500</text>
<text x="194.76" y="925.90" font-size="14.8" stroke="none" stroke-width="0" fill="#000" font-weight="normal" textLength="18.58" lengthAdjust="spacingAndGlyphs" >500</text>
<text x="249.46" y="925.90" font-size="14.8" stroke="none" stroke-width="0" fill="#000" font-weight="normal" textLength="18.58" lengthAdjust="spacingAndGlyphs" >800</text>
<text x="301.36" y="925.90" font-size="14.8" stroke="none" stroke-width="0" fill="#000" font-weight="normal" textLength="21.67" lengthAdjust="spacingAndGlyphs" >27.7</text>
<text x="80.90" y="942.60" font-size="14.8" stroke="none" stroke-width="0" fill="#000" font-weight="normal" textLength="73.40" lengthAdjust="spacingAndGlyphs" >КГЦ80.50–560</text>
<text x="194.76" y="942.60" font-size="14.8" stroke="none" stroke-width="0" fill="#000" font-weight="normal" textLength="18.58" lengthAdjust="spacingAndGlyphs" >560</text>
<text x="249.46" y="942.60" font-size="14.8" stroke="none" stroke-width="0" fill="#000" font-weight="normal" textLength="18.58" lengthAdjust="spacingAndGlyphs" >860</text>
<text x="301.36" y="942.60" font-size="14.8" stroke="none" stroke-width="0" fill="#000" font-weight="normal" textLength="21.67" lengthAdjust="spacingAndGlyphs" >29.6</text>
<text x="80.90" y="959.70" font-size="14.8" stroke="none" stroke-width="0" fill="#000" font-weight="normal" textLength="73.40" lengthAdjust="spacingAndGlyphs" >КГЦ80.50–630</text>
<text x="194.76" y="959.70" font-size="14.8" stroke="none" stroke-width="0" fill="#000" font-weight="normal" textLength="18.58" lengthAdjust="spacingAndGlyphs" >630</text>
<text x="249.46" y="959.70" font-size="14.8" stroke="none" stroke-width="0" fill="#000" font-weight="normal" textLength="18.58" lengthAdjust="spacingAndGlyphs" >930</text>
<text x="301.36" y="959.70" font-size="14.8" stroke="none" stroke-width="0" fill="#000" font-weight="normal" textLength="21.67" lengthAdjust="spacingAndGlyphs" >31.9</text>
<text x="80.90" y="986.30" font-size="14.8" stroke="none" stroke-width="0" fill="#000" font-weight="normal" textLength="73.40" lengthAdjust="spacingAndGlyphs" >КГЦ80.50–710</text>
<text x="194.76" y="986.30" font-size="14.8" stroke="none" stroke-width="0" fill="#000" font-weight="normal" textLength="18.58" lengthAdjust="spacingAndGlyphs" >710</text>
<text x="246.36" y="986.30" font-size="14.8" stroke="none" stroke-width="0" fill="#000" font-weight="normal" textLength="24.77" lengthAdjust="spacingAndGlyphs" >1010</text>
<text x="301.36" y="986.30" font-size="14.8" stroke="none" stroke-width="0" fill="#000" font-weight="normal" textLength="21.67" lengthAdjust="spacingAndGlyphs" >34.3</text>
<text x="80.90" y="1012.40" font-size="14.8" stroke="none" stroke-width="0" fill="#000" font-weight="normal" textLength="73.40" lengthAdjust="spacingAndGlyphs" >КГЦ80.50–800</text>
<text x="194.76" y="1012.40" font-size="14.8" stroke="none" stroke-width="0" fill="#000" font-weight="normal" textLength="18.58" lengthAdjust="spacingAndGlyphs" >800</text>
<text x="246.78" y="1012.40" font-size="14.8" stroke="none" stroke-width="0" fill="#000" font-weight="normal" textLength="23.95" lengthAdjust="spacingAndGlyphs" >1100</text>
<text x="301.36" y="1012.40" font-size="14.8" stroke="none" stroke-width="0" fill="#000" font-weight="normal" textLength="21.67" lengthAdjust="spacingAndGlyphs" >37.2</text>
<text x="80.90" y="1030.10" font-size="14.8" stroke="none" stroke-width="0" fill="#000" font-weight="normal" textLength="73.40" lengthAdjust="spacingAndGlyphs" >КГЦ80.50–900</text>
<text x="194.76" y="1030.10" font-size="14.8" stroke="none" stroke-width="0" fill="#000" font-weight="normal" textLength="18.58" lengthAdjust="spacingAndGlyphs" >900</text>
<text x="246.36" y="1030.10" font-size="14.8" stroke="none" stroke-width="0" fill="#000" font-weight="normal" textLength="24.77" lengthAdjust="spacingAndGlyphs" >1200</text>
<text x="301.36" y="1030.10" font-size="14.8" stroke="none" stroke-width="0" fill="#000" font-weight="normal" textLength="21.67" lengthAdjust="spacingAndGlyphs" >40.3</text>
<text x="80.90" y="1047.70" font-size="14.8" stroke="none" stroke-width="0" fill="#000" font-weight="normal" textLength="79.59" lengthAdjust="spacingAndGlyphs" >КГЦ80.50–1000</text>
<text x="191.66" y="1047.70" font-size="14.8" stroke="none" stroke-width="0" fill="#000" font-weight="normal" textLength="24.77" lengthAdjust="spacingAndGlyphs" >1000</text>
<text x="246.36" y="1047.70" font-size="14.8" stroke="none" stroke-width="0" fill="#000" font-weight="normal" textLength="24.77" lengthAdjust="spacingAndGlyphs" >1300</text>
<text x="301.36" y="1047.70" font-size="14.8" stroke="none" stroke-width="0" fill="#000" font-weight="normal" textLength="21.67" lengthAdjust="spacingAndGlyphs" >43.5</text>
<text x="80.90" y="1065.40" font-size="14.8" stroke="none" stroke-width="0" fill="#000" font-weight="normal" textLength="79.59" lengthAdjust="spacingAndGlyphs" >КГЦ80.50–1265</text>
<text x="191.66" y="1065.40" font-size="14.8" stroke="none" stroke-width="0" fill="#000" font-weight="normal" textLength="24.77" lengthAdjust="spacingAndGlyphs" >1265</text>
<text x="246.36" y="1065.40" font-size="14.8" stroke="none" stroke-width="0" fill="#000" font-weight="normal" textLength="24.77" lengthAdjust="spacingAndGlyphs" >1595</text>
<text x="301.36" y="1065.40" font-size="14.8" stroke="none" stroke-width="0" fill="#000" font-weight="normal" textLength="21.67" lengthAdjust="spacingAndGlyphs" >52.3</text>
<text x="420.50" y="764.60" font-size="11" stroke="none" stroke-width="0" fill="#000" font-weight="normal" textLength="228.50" lengthAdjust="spacingAndGlyphs" >Управление изменением движения комбайна ПКС–8</text>
<text x="437.10" y="785.30" font-size="11" stroke="none" stroke-width="0" fill="#000" font-weight="normal" textLength="195.90" lengthAdjust="spacingAndGlyphs" >Подъем балки сажалки картофельной СК–4</text>
<text x="452.30" y="805.00" font-size="11" stroke="none" stroke-width="0" fill="#000" font-weight="normal" textLength="165.90" lengthAdjust="spacingAndGlyphs" >Рулевое управление катка А–6712А.</text>
<text x="472.40" y="842.50" font-size="11" stroke="none" stroke-width="0" fill="#000" font-weight="normal" textLength="125.29" lengthAdjust="spacingAndGlyphs" >Подъем грейферного ковша</text>
<text x="420.50" y="859.10" font-size="11" stroke="none" stroke-width="0" fill="#000" font-weight="normal" textLength="228.50" lengthAdjust="spacingAndGlyphs" >Управление изменением движения комбайна ПКС–8</text>
<text x="421.20" y="876.80" font-size="11" stroke="none" stroke-width="0" fill="#000" font-weight="normal" textLength="227.80" lengthAdjust="spacingAndGlyphs" >Рулев. управлен. катков: А–6622, А–6631, А–6641</text>
<text x="436.40" y="892.70" font-size="11" stroke="none" stroke-width="0" fill="#000" font-weight="normal" textLength="196.60" lengthAdjust="spacingAndGlyphs" >Поворот отвала экскаватора А–702ЕВ–02</text>
<text x="455.40" y="926.20" font-size="11" stroke="none" stroke-width="0" fill="#000" font-weight="normal" textLength="158.20" lengthAdjust="spacingAndGlyphs" >Подъем платформы прицепа ТП–10</text>
<text x="424.70" y="959.70" font-size="11" stroke="none" stroke-width="0" fill="#000" font-weight="normal" textLength="220.70" lengthAdjust="spacingAndGlyphs" >Подъем платформы транспортировщика ПСГ–6,5</text>
<text x="425.40" y="976.70" font-size="11" stroke="none" stroke-width="0" fill="#000" font-weight="normal" textLength="218.20" lengthAdjust="spacingAndGlyphs" >Подъем стрелы погрузчиков А–702Е–01, А–704.</text>
<text x="420.50" y="993.30" font-size="11" stroke="none" stroke-width="0" fill="#000" font-weight="normal" textLength="228.50" lengthAdjust="spacingAndGlyphs" >Управление изменением движения комбайна ПКС–8</text>
<text x="427.50" y="1010.90" font-size="11" stroke="none" stroke-width="0" fill="#000" font-weight="normal" textLength="214.40" lengthAdjust="spacingAndGlyphs" >Подъем платформы транспортировщика ПСГ–6</text>
<text x="419.40" y="1063.90" font-size="11" stroke="none" stroke-width="0" fill="#000" font-weight="normal" textLength="230.60" lengthAdjust="spacingAndGlyphs" >Выдвижение опоры автогидроподъемника ПМС–328</text>
<text x="201.60" y="542.30" font-size="41" stroke="#e3e3f7" stroke-width="1.4" fill="#e3e3f7" font-weight="normal" textLength="22.41" lengthAdjust="spacingAndGlyphs" >о</text>
<text x="229.60" y="542.30" font-size="41" stroke="#e3e3f7" stroke-width="1.4" fill="#e3e3f7" font-weight="normal" textLength="21.58" lengthAdjust="spacingAndGlyphs" >п</text>
<text x="253.10" y="542.30" font-size="41" stroke="#e3e3f7" stroke-width="1.4" fill="#e3e3f7" font-weight="normal" textLength="21.50" lengthAdjust="spacingAndGlyphs" >т</text>
<text x="278.80" y="542.30" font-size="41" stroke="#e3e3f7" stroke-width="1.4" fill="#e3e3f7" font-weight="normal" textLength="20.78" lengthAdjust="spacingAndGlyphs" >и</text>
<text x="303.80" y="542.30" font-size="41" stroke="#e3e3f7" stroke-width="1.4" fill="#e3e3f7" font-weight="normal" textLength="20.61" lengthAdjust="spacingAndGlyphs" >н</text>
<text x="328.60" y="542.30" font-size="41" stroke="#e3e3f7" stroke-width="1.4" fill="#e3e3f7" font-weight="normal" textLength="17.00" lengthAdjust="spacingAndGlyphs" >с</text>
<text x="348.20" y="542.30" font-size="41" stroke="#e3e3f7" stroke-width="1.4" fill="#e3e3f7" font-weight="normal" textLength="20.90" lengthAdjust="spacingAndGlyphs" >т</text>
<text x="370.90" y="542.30" font-size="41" stroke="#e3e3f7" stroke-width="1.4" fill="#e3e3f7" font-weight="normal" textLength="22.41" lengthAdjust="spacingAndGlyphs" >р</text>
<text x="396.70" y="542.30" font-size="41" stroke="#e3e3f7" stroke-width="1.4" fill="#e3e3f7" font-weight="normal" textLength="25.50" lengthAdjust="spacingAndGlyphs" >у</text>
<text x="426.10" y="542.30" font-size="41" stroke="#e3e3f7" stroke-width="1.4" fill="#e3e3f7" font-weight="normal" textLength="25.38" lengthAdjust="spacingAndGlyphs" >м</text>
<text x="453.40" y="542.30" font-size="41" stroke="#e3e3f7" stroke-width="1.4" fill="#e3e3f7" font-weight="normal" textLength="20.11" lengthAdjust="spacingAndGlyphs" >е</text>
<text x="479.80" y="542.30" font-size="41" stroke="#e3e3f7" stroke-width="1.4" fill="#e3e3f7" font-weight="normal" textLength="20.91" lengthAdjust="spacingAndGlyphs" >н</text>
<text x="503.80" y="542.30" font-size="41" stroke="#e3e3f7" stroke-width="1.4" fill="#e3e3f7" font-weight="normal" textLength="20.40" lengthAdjust="spacingAndGlyphs" >т</text>
<text x="528.80" y="542.30" font-size="41" stroke="#e3e3f7" stroke-width="1.4" fill="#e3e3f7" font-weight="normal" textLength="7.00" lengthAdjust="spacingAndGlyphs" >.</text>
<text x="540.70" y="542.30" font-size="41" stroke="#e3e3f7" stroke-width="1.4" fill="#e3e3f7" font-weight="normal" textLength="20.01" lengthAdjust="spacingAndGlyphs" >р</text>
<text x="566.40" y="542.30" font-size="41" stroke="#e3e3f7" stroke-width="1.4" fill="#e3e3f7" font-weight="normal" textLength="28.39" lengthAdjust="spacingAndGlyphs" >ф</text>
</svg></body></html>
